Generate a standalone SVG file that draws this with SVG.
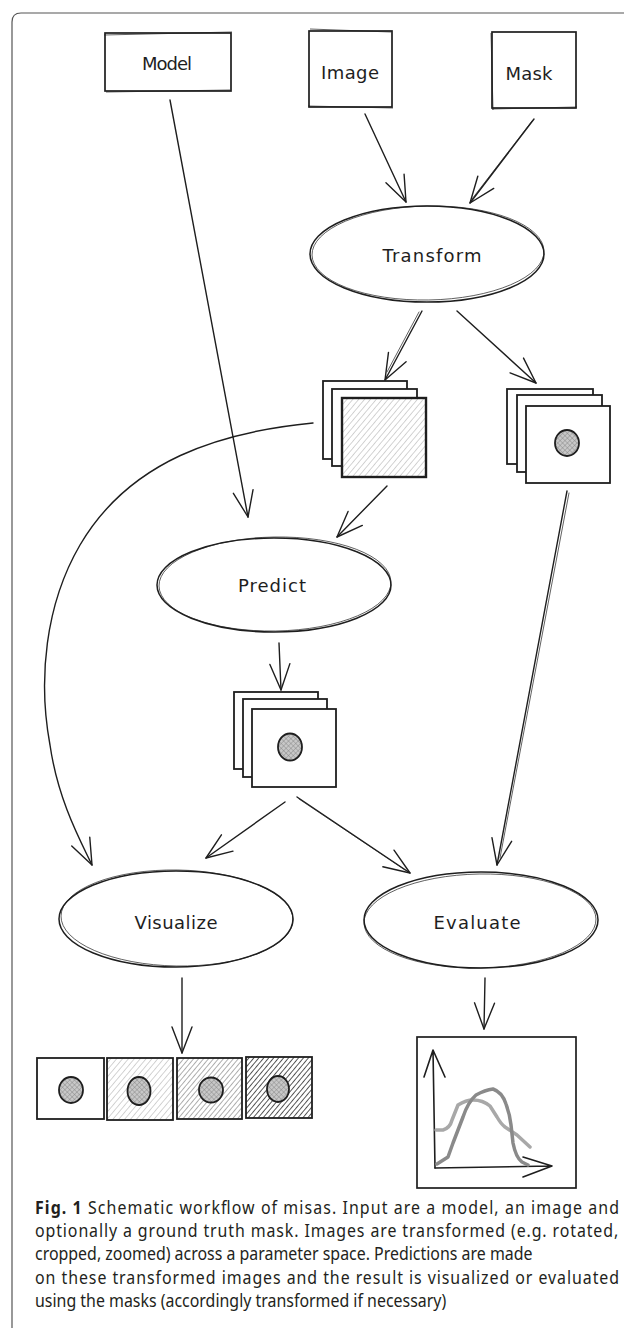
<svg xmlns="http://www.w3.org/2000/svg" width="624" height="1334" viewBox="0 0 624 1334">
<style>
.frame{fill:none;stroke:#555;stroke-width:1.2}
.box{fill:#fff;stroke:#1e1e1e;stroke-width:1.7}
.box2{fill:none;stroke:#1e1e1e;stroke-width:0.7}
.ell{fill:#fff;stroke:#1e1e1e;stroke-width:1.5}
.ell2{fill:none;stroke:#1e1e1e;stroke-width:0.7}
.card{fill:#fff;stroke:#1e1e1e;stroke-width:1.8}
.lbl{font-family:"DejaVu Sans",sans-serif;font-size:18px;fill:#1e1e1e;text-anchor:middle;dominant-baseline:central}
.con{fill:none;stroke:#1e1e1e;stroke-width:1.4;stroke-linecap:round;marker-end:url(#ah)}
.con2{fill:none;stroke:#1e1e1e;stroke-width:0.7;stroke-linecap:round}
.cap{font-family:"Noto Sans","Open Sans",sans-serif;font-size:18px;fill:#231f20}
.blob{stroke:#1e1e1e;stroke-width:1.8;fill:url(#cross)}
</style>
<defs>
<marker id="ah" markerUnits="userSpaceOnUse" markerWidth="32" markerHeight="30" viewBox="-30 -15 32 30" refX="0" refY="0" orient="auto">
<path d="M-26,-10 L0,0 L-26,10" fill="none" stroke="#1e1e1e" stroke-width="1.4" stroke-linecap="round" stroke-linejoin="round"/>
</marker>
<pattern id="hatchLight" patternUnits="userSpaceOnUse" width="4.5" height="4.5" patternTransform="rotate(40)">
<rect width="4.5" height="4.5" fill="#fff"/>
<line x1="0" y1="0" x2="0" y2="4.5" stroke="#a8a8a8" stroke-width="1"/>
</pattern>
<pattern id="hatchMed" patternUnits="userSpaceOnUse" width="3.8" height="3.8" patternTransform="rotate(40)">
<rect width="3.8" height="3.8" fill="#fff"/>
<line x1="0" y1="0" x2="0" y2="3.8" stroke="#7a7a7a" stroke-width="1.2"/>
</pattern>
<pattern id="hatchDark" patternUnits="userSpaceOnUse" width="3.8" height="3.8" patternTransform="rotate(40)">
<rect width="3.8" height="3.8" fill="#fff"/>
<line x1="0" y1="0" x2="0" y2="3.8" stroke="#222" stroke-width="1.5"/>
</pattern>
<pattern id="cross" patternUnits="userSpaceOnUse" width="3.4" height="3.4" patternTransform="rotate(45)">
<rect width="3.4" height="3.4" fill="#c8c8c8"/>
<line x1="0" y1="0" x2="0" y2="3.4" stroke="#808080" stroke-width="0.8"/>
<line x1="0" y1="0" x2="3.4" y2="0" stroke="#808080" stroke-width="0.8"/>
</pattern>
</defs>

<rect width="624" height="1334" fill="#fff"/>
<path class="frame" d="M12,1328 V22 Q12,13 21,13 H624"/>

<g id="connectors">
<path class="con" d="M170,100 L248,517"/>
<path class="con" d="M365,114 L406,202"/>
<path class="con" d="M534,119 L470,203"/>
<path class="con2" d="M532,121 L472,199"/>
<path class="con" d="M422,311 L385,380"/>
<path class="con2" d="M419,312 L387,372"/>
<path class="con" d="M457,311 L536,383"/>
<path class="con" d="M387,486 L337,537"/>
<path class="con" d="M313,423 C220,432 130,460 80,545 C45,605 38,680 50,745 C58,800 80,840 92,865"/>
<path class="con" d="M279,643 L281,690"/>
<path class="con" d="M567,491 L497,865"/>
<path class="con2" d="M569,493 L500,858"/>
<path class="con" d="M285,802 L206,858"/>
<path class="con" d="M297,797 L410,873"/>
<path class="con2" d="M299,799 L405,870"/>
<path class="con" d="M182,978 L182,1053"/>
<path class="con" d="M485,978 L484,1029"/>
</g>

<g id="node-model">
<rect class="box" x="105" y="33" width="126" height="58"/>
<path class="box2" d="M104,35 L232,32 M106,92 L230,90"/>
<text class="lbl" x="167" y="63" textLength="50">Model</text>
</g>

<g id="node-image">
<rect class="box" x="309" y="31" width="83" height="76"/>
<path class="box2" d="M310,29 L391,32 M308,106 L393,108"/>
<text class="lbl" x="350" y="72" textLength="58">Image</text>
</g>

<g id="node-mask">
<rect class="box" x="492" y="32" width="84" height="76"/>
<path class="box2" d="M491,33 L493,110 M492,109 L577,107"/>
<text class="lbl" x="529" y="73" textLength="47">Mask</text>
</g>

<g id="node-transform">
<ellipse class="ell" cx="427" cy="254" rx="117" ry="48"/>
<ellipse class="ell2" cx="428" cy="253" rx="116" ry="47" transform="rotate(-1 428 253)"/>
<text class="lbl" x="432" y="255" textLength="99">Transform</text>
</g>

<g id="node-transformed-images">
<rect class="card" x="323" y="381" width="84" height="78"/>
<rect class="card" x="332" y="389" width="85" height="77"/>
<rect x="342" y="398" width="84" height="79" fill="url(#hatchLight)" stroke="#1e1e1e" stroke-width="2.4"/>
</g>

<g id="node-transformed-masks">
<rect class="card" x="507" y="389" width="86" height="75"/>
<rect class="card" x="517" y="395" width="85" height="77"/>
<rect class="card" x="526" y="406" width="84" height="77"/>
<ellipse class="blob" cx="567" cy="443" rx="12" ry="13"/>
</g>

<g id="node-predict">
<ellipse class="ell" cx="274" cy="585" rx="117" ry="47"/>
<ellipse class="ell2" cx="275" cy="584" rx="116" ry="47" transform="rotate(-1 275 584)"/>
<text class="lbl" x="272" y="585" textLength="68">Predict</text>
</g>

<g id="node-predictions">
<rect class="card" x="234" y="692" width="84" height="77"/>
<rect class="card" x="243" y="699" width="84" height="78"/>
<rect class="card" x="252" y="709" width="84" height="78"/>
<ellipse class="blob" cx="290" cy="747" rx="12" ry="13.5"/>
</g>

<g id="node-visualize">
<ellipse class="ell" cx="176" cy="919" rx="117" ry="48"/>
<ellipse class="ell2" cx="177" cy="918" rx="116" ry="48" transform="rotate(1 177 918)"/>
<text class="lbl" x="176" y="922" textLength="83">Visualize</text>
</g>

<g id="node-evaluate">
<ellipse class="ell" cx="481" cy="920" rx="117" ry="48"/>
<ellipse class="ell2" cx="480" cy="921" rx="116" ry="47" transform="rotate(-1 480 921)"/>
<text class="lbl" x="477" y="922" textLength="87">Evaluate</text>
</g>

<g id="node-visualizations">
<rect class="card" x="37" y="1058" width="67" height="61"/>
<ellipse class="blob" cx="71" cy="1090" rx="12" ry="13"/>
<rect x="107" y="1058" width="66" height="62" fill="url(#hatchLight)" stroke="#1e1e1e" stroke-width="1.8"/>
<ellipse class="blob" cx="139" cy="1091" rx="11.5" ry="14"/>
<rect x="177" y="1058" width="65" height="61" fill="url(#hatchMed)" stroke="#1e1e1e" stroke-width="1.8"/>
<ellipse class="blob" cx="211" cy="1090" rx="12" ry="12.5"/>
<rect x="246" y="1057" width="66" height="61" fill="url(#hatchDark)" stroke="#1e1e1e" stroke-width="1.8"/>
<ellipse class="blob" cx="278" cy="1089" rx="11" ry="13"/>
</g>

<g id="node-chart">
<rect x="417" y="1037" width="159" height="151" fill="#fff" stroke="#1e1e1e" stroke-width="1.7"/>
<path d="M435,1168 L433,1050 M424,1077 L433,1050 L445,1077" fill="none" stroke="#1e1e1e" stroke-width="1.6" stroke-linecap="round" stroke-linejoin="round"/>
<path d="M435,1168 L552,1166 M523,1157 L552,1166 L523,1177" fill="none" stroke="#1e1e1e" stroke-width="1.6" stroke-linecap="round" stroke-linejoin="round"/>
<path d="M436,1130 L443,1130 Q450,1128 452,1120 L458,1105 Q466,1100 473,1100 Q483,1100 490,1106 L497,1117 Q501,1124 505,1127 L517,1135 L530,1147" fill="none" stroke="#a8a8a8" stroke-width="3.5" stroke-linecap="round" stroke-linejoin="round"/>
<path d="M437,1164 L448,1157 L453,1143 L463,1117 Q468,1102 476,1095 Q485,1090 493,1089 Q502,1092 506,1104 Q510,1115 511,1125 L513,1143 Q516,1158 522,1162 L528,1165" fill="none" stroke="#8a8a8a" stroke-width="3.5" stroke-linecap="round" stroke-linejoin="round"/>
</g>

<g id="caption" transform="translate(35,0) scale(0.885,1)">
<text class="cap" x="0" y="1214" textLength="660" lengthAdjust="spacing"><tspan font-weight="bold">Fig. 1</tspan><tspan dx="6">Schematic workflow of misas. Input are a model, an image and</tspan></text>
<text class="cap" x="0" y="1237" textLength="659" lengthAdjust="spacing">optionally a ground truth mask. Images are transformed (e.g. rotated,</text>
<text class="cap" x="0" y="1260">cropped, zoomed) across a parameter space. Predictions are made</text>
<text class="cap" x="0" y="1284" textLength="660" lengthAdjust="spacing">on these transformed images and the result is visualized or evaluated</text>
<text class="cap" x="0" y="1307">using the masks (accordingly transformed if necessary)</text>
</g>
</svg>
